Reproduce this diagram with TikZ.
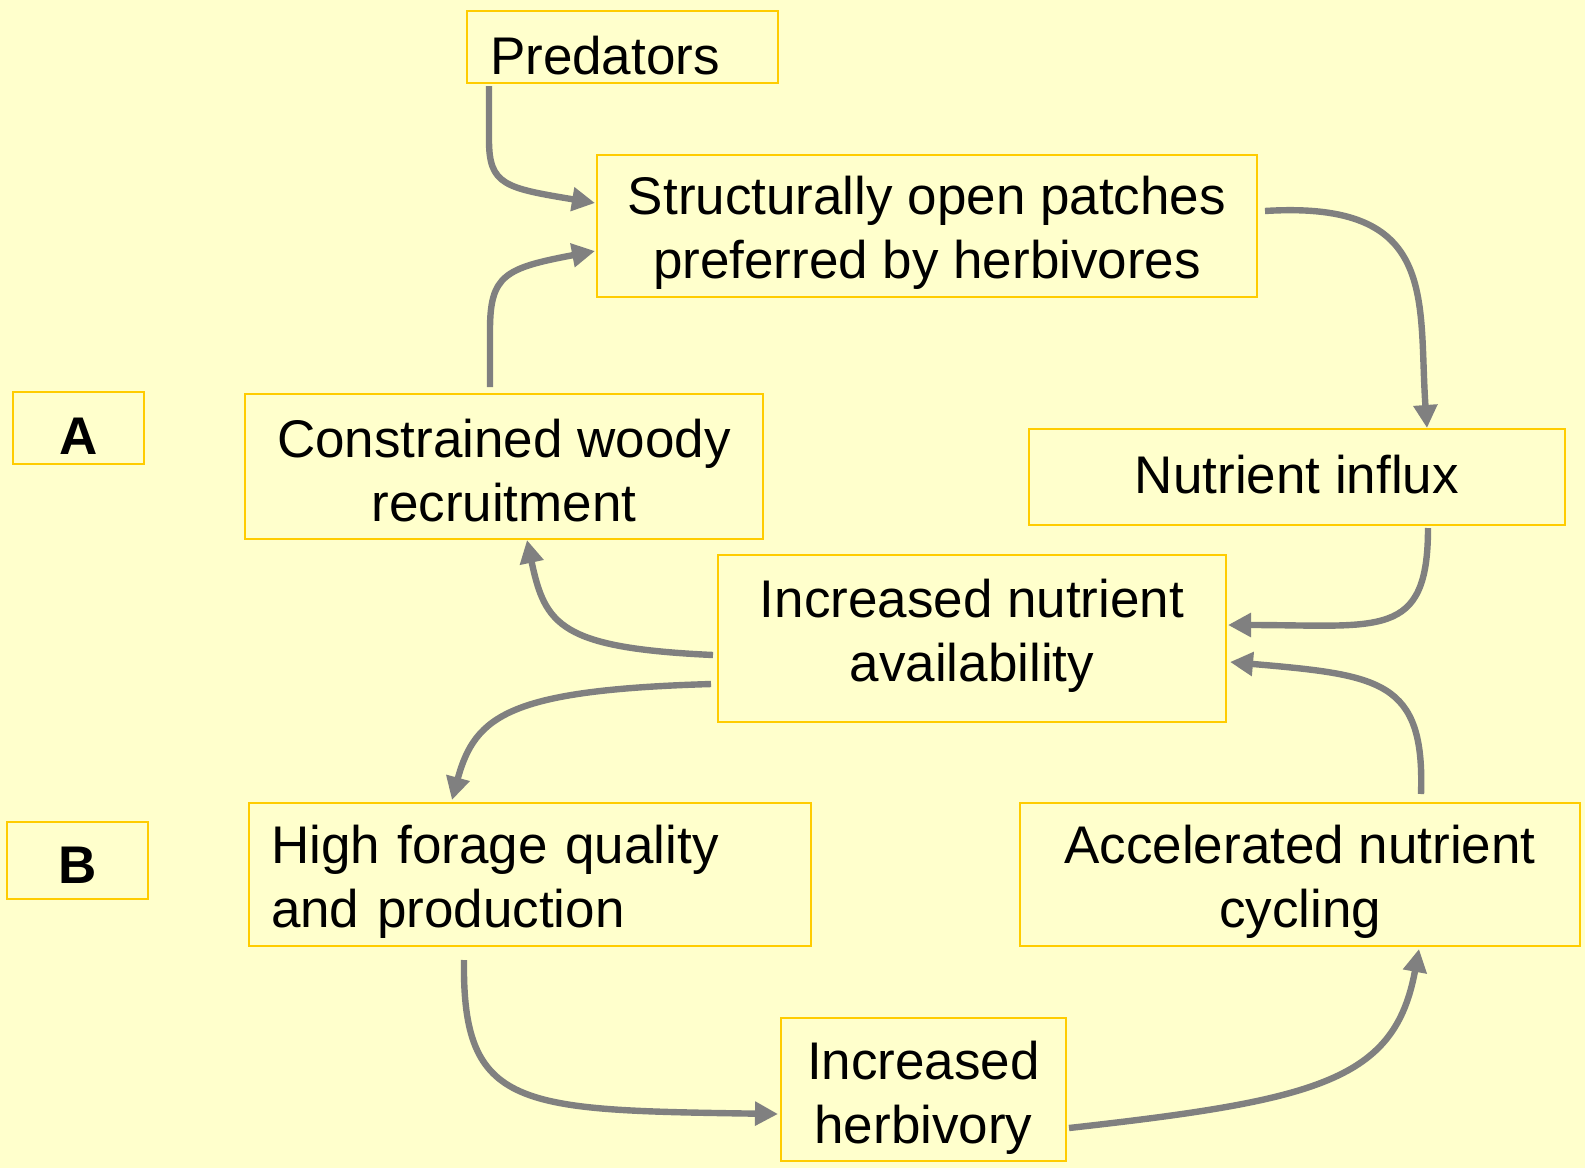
\documentclass[tikz,border=0pt]{standalone}
\usepackage{fontspec}
\setmainfont{Liberation Sans}
\usetikzlibrary{arrows.meta,calc}
\definecolor{bgc}{HTML}{FFFFCC}
\definecolor{boxc}{HTML}{FFCC00}
\definecolor{arrc}{HTML}{808080}
\newcommand\up[1]{\rule{0pt}{#1}}
\newcommand\dn[1]{\rule[-#1]{0pt}{0pt}}
\begin{document}
\begin{tikzpicture}[x=0.5pt,y=-0.5pt,
  box/.style={draw=boxc, line width=1pt, inner sep=0pt, anchor=north west, align=center,
    font=\fontsize{26.5}{32}\selectfont},
  lbl/.style={box, font=\fontsize{26.5}{32}\selectfont\bfseries},
  arr/.style={draw=arrc, line width=3.2pt, -{Triangle[length=11.5pt,width=11.5pt]}}]
\fill[bgc] (0,0) rectangle (1585,1168);
\useasboundingbox (0,0) rectangle (1585,1168);

\node[box, minimum width=155.5pt, minimum height=36pt, inner xsep=11.5pt, text width=132.5pt, align=left] (pred) at (466,10) {\up{28pt}Predators};
\node[box, minimum width=330pt, minimum height=71pt] (struct) at (596,154) {\up{26.3pt}Structurally open patches\\preferred by herbivores};
\node[lbl, minimum width=65.5pt, minimum height=36pt] (A) at (12,391) {\up{26pt}A};
\node[box, minimum width=259pt, minimum height=72.5pt] (constr) at (244,393) {\up{23.3pt}Constrained woody\\recruitment};
\node[box, minimum width=268pt, minimum height=48pt] (influx) at (1028,428) {\dn{3pt}Nutrient influx};
\node[box, minimum width=254pt, minimum height=83.5pt] (avail) at (717,554) {Increased nutrient\\availability\dn{8.6pt}};
\node[lbl, minimum width=70.5pt, minimum height=38.5pt] (B) at (6,821) {\up{23pt}B};
\node[box, minimum width=281pt, minimum height=71.5pt, inner xsep=11pt, text width=259pt, align=left] (forage) at (248,802) {\up{26pt}High forage quality\\and production};
\node[box, minimum width=280pt, minimum height=71.5pt] (accel) at (1019,802) {\up{26.3pt}Accelerated nutrient\\cycling};
\node[box, minimum width=142.5pt, minimum height=71.5pt] (herb) at (780,1017) {\up{27pt}Increased\\herbivory};

% connectors
\draw[arr] ($(pred.north west)+(23,76)$) -- (489,140) .. controls (489,185) and (505,188) .. ($(struct.north west)+(-1,49)$);
\draw[arr] ($(constr.north west)+(246,-6)$) -- (490,330) .. controls (490,275) and (505,268) .. ($(struct.north west)+(-1,97)$);
\draw[arr] ($(struct.north east)+(7,57)$) .. controls (1440,200) and (1418,300) .. ($(influx.north west)+(399,0)$);
\draw[arr] ($(influx.south west)+(400,2)$) .. controls (1428,640) and (1380,625) .. ($(avail.north east)+(1,71)$);
\draw[arr] ($(accel.north west)+(402,-8)$) .. controls (1425,680) and (1380,675) .. ($(avail.north east)+(3,108)$);
\draw[arr] ($(avail.north west)+(-4,101)$) .. controls (560,648) and (545,625) .. ($(constr.south west)+(283,0)$);
\draw[arr] ($(avail.north west)+(-6,130)$) .. controls (510,690) and (475,715) .. ($(forage.north west)+(204,-2)$);
\draw[arr] ($(forage.south west)+(216,13)$) .. controls (462,1110) and (520,1110) .. ($(herb.north west)+(-2,97)$);
\draw[arr] ($(herb.south east)+(2,-34)$) .. controls (1320,1100) and (1395,1080) .. ($(accel.south west)+(400,2)$);
\end{tikzpicture}
\end{document}
